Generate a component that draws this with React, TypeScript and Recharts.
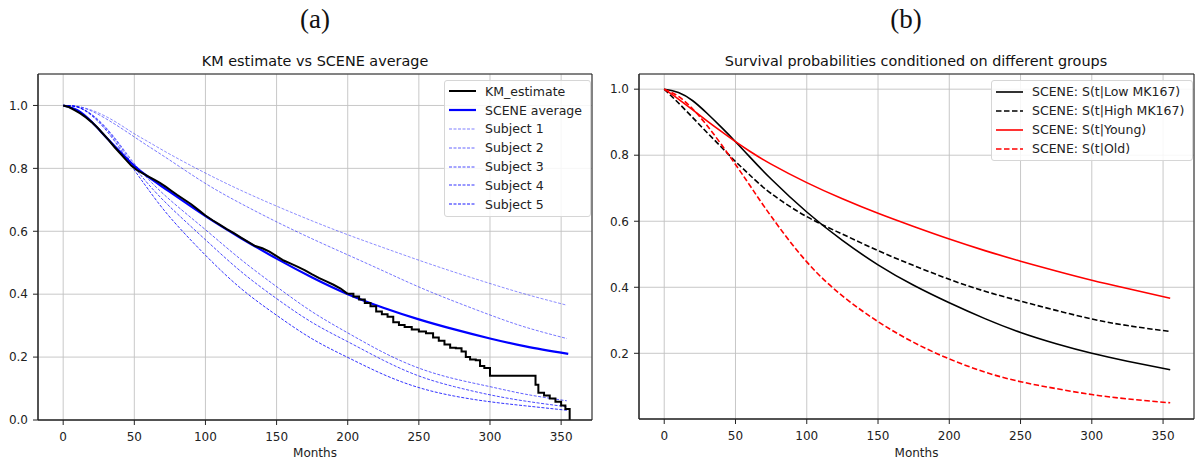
import React from "react";
import {
  LineChart,
  Line,
  XAxis,
  YAxis,
  CartesianGrid,
  ReferenceArea,
  Legend,
  Label,
} from "recharts";

const FONT = "'DejaVu Sans', Verdana, sans-serif";

// ---- shared axes ----
const X_DOMAIN = [-17.7, 371.7];
const X_TICKS = [0, 50, 100, 150, 200, 250, 300, 350];
const LEFT_Y_TICKS = [0, 0.2, 0.4, 0.6, 0.8, 1.0];
const RIGHT_Y_TICKS = [0.2, 0.4, 0.6, 0.8, 1.0];

// ---- (a) KM estimate: dense small steps early, visible steps late ----
const KM_EARLY_MONTHS = [
  0, 4, 8, 12, 16, 20, 24, 28, 32, 36, 40, 44, 48, 52, 56, 60, 64, 68, 72, 76,
  80, 85, 90, 95, 100, 105, 110, 115, 120, 125, 130, 135, 140, 145, 150, 155,
  160, 165, 170, 175, 180, 185, 190, 195, 200,
];
const KM_EARLY_VALUES = [
  1.0, 0.995, 0.985, 0.975, 0.962, 0.947, 0.93, 0.91, 0.89, 0.868, 0.848,
  0.828, 0.808, 0.794, 0.784, 0.774, 0.764, 0.754, 0.742, 0.729, 0.716, 0.701,
  0.686, 0.668, 0.65, 0.635, 0.621, 0.607, 0.594, 0.58, 0.566, 0.553, 0.546,
  0.535, 0.521, 0.507, 0.497, 0.487, 0.476, 0.463, 0.451, 0.441, 0.43, 0.418,
  0.401,
];
const KM_LATE_MONTHS = [
  200, 204, 208, 212, 216, 220, 224, 228, 232, 236, 240, 245, 250, 255, 260,
  264, 268, 272, 276, 280, 283, 286, 290, 293, 296, 300, 330, 332, 334, 338,
  342, 346, 350, 353, 356,
];
const KM_LATE_VALUES = [
  0.401, 0.393, 0.383, 0.372, 0.362, 0.345, 0.336, 0.328, 0.311, 0.302, 0.296,
  0.288, 0.281, 0.276, 0.262, 0.252, 0.24, 0.23, 0.228, 0.218, 0.2, 0.192,
  0.19, 0.172, 0.165, 0.141, 0.141, 0.112, 0.087, 0.078, 0.068, 0.058, 0.046,
  0.035, 0.0,
];

// ---- (a) SCENE average and subjects ----
const SCENE_MONTHS = [
  0, 10, 20, 30, 40, 50, 60, 75, 100, 125, 150, 175, 200, 225, 250, 275, 300,
  325, 355,
];
const SCENE_AVG = [
  1.0, 0.985, 0.948, 0.9, 0.853, 0.808, 0.772, 0.725, 0.648, 0.578, 0.513,
  0.453, 0.4, 0.357, 0.32, 0.288, 0.259, 0.234, 0.21,
];
const SUBJECT_MONTHS = [
  0, 10, 20, 30, 40, 50, 60, 75, 100, 125, 150, 175, 200, 225, 250, 275, 300,
  325, 354,
];
const SUBJECT_1 = [
  1.0, 0.997, 0.985, 0.965, 0.939, 0.91, 0.884, 0.845, 0.785, 0.73, 0.68,
  0.633, 0.589, 0.548, 0.508, 0.47, 0.434, 0.4, 0.365,
];
const SUBJECT_2 = [
  1.0, 0.997, 0.982, 0.958, 0.93, 0.9, 0.87, 0.826, 0.752, 0.688, 0.63, 0.576,
  0.525, 0.474, 0.423, 0.377, 0.334, 0.295, 0.259,
];
const SUBJECT_3 = [
  1.0, 0.995, 0.972, 0.93, 0.875, 0.815, 0.765, 0.7, 0.605, 0.51, 0.424, 0.344,
  0.277, 0.215, 0.165, 0.131, 0.106, 0.082, 0.061,
];
const SUBJECT_4 = [
  1.0, 0.995, 0.97, 0.927, 0.87, 0.805, 0.749, 0.678, 0.573, 0.472, 0.386,
  0.31, 0.249, 0.19, 0.14, 0.106, 0.08, 0.06, 0.042,
];
const SUBJECT_5 = [
  1.0, 0.995, 0.968, 0.922, 0.862, 0.795, 0.732, 0.645, 0.524, 0.418, 0.333,
  0.258, 0.199, 0.145, 0.103, 0.076, 0.058, 0.045, 0.031,
];

// ---- (b) group curves ----
const GROUP_MONTHS = [
  0, 10, 20, 30, 40, 50, 60, 75, 100, 125, 150, 175, 200, 225, 250, 275, 300,
  325, 355,
];
const LOW_MK167 = [
  1.0, 0.99, 0.965, 0.927, 0.885, 0.841, 0.795, 0.728, 0.628, 0.542, 0.468,
  0.406, 0.353, 0.305, 0.263, 0.229, 0.2, 0.176, 0.15,
];
const HIGH_MK167 = [
  1.0, 0.958, 0.914, 0.869, 0.825, 0.781, 0.74, 0.684, 0.614, 0.561, 0.511,
  0.466, 0.424, 0.388, 0.358, 0.33, 0.304, 0.284, 0.266,
];
const YOUNG = [
  1.0, 0.97, 0.937, 0.904, 0.872, 0.841, 0.812, 0.773, 0.717, 0.668, 0.624,
  0.584, 0.546, 0.511, 0.479, 0.449, 0.421, 0.396, 0.367,
];
const OLD = [
  1.0, 0.978, 0.94, 0.89, 0.833, 0.772, 0.709, 0.615, 0.477, 0.374, 0.296,
  0.233, 0.183, 0.143, 0.114, 0.093, 0.075, 0.062, 0.05,
];

const toPoints = (months: number[], values: number[]) =>
  months.map((m, i) => ({ m, v: values[i] }));

type LegendItem = {
  label: string;
  color: string;
  width: number;
  dash?: string;
  opacity?: number;
};

const LEFT_LEGEND: LegendItem[] = [
  { label: "KM_estimate", color: "#000000", width: 2 },
  { label: "SCENE average", color: "#0000ff", width: 2.2 },
  { label: "Subject 1", color: "#0000ff", width: 1, dash: "3 1.5", opacity: 0.5 },
  { label: "Subject 2", color: "#0000ff", width: 1, dash: "3 1.5", opacity: 0.6 },
  { label: "Subject 3", color: "#0000ff", width: 1, dash: "3 1.5", opacity: 0.7 },
  { label: "Subject 4", color: "#0000ff", width: 1, dash: "3 1.5", opacity: 0.8 },
  { label: "Subject 5", color: "#0000ff", width: 1, dash: "3 1.5", opacity: 0.9 },
];

const RIGHT_LEGEND: LegendItem[] = [
  { label: "SCENE: S(t|Low MK167)", color: "#000000", width: 1.6 },
  { label: "SCENE: S(t|High MK167)", color: "#000000", width: 1.6, dash: "5.5 2.5" },
  { label: "SCENE: S(t|Young)", color: "#ff0000", width: 1.6 },
  { label: "SCENE: S(t|Old)", color: "#ff0000", width: 1.6, dash: "5.5 2.5" },
];

function LegendBox({ items, rowHeight }: { items: LegendItem[]; rowHeight: number }) {
  return (
    <div
      style={{
        border: "1px solid #d6d6d6",
        borderRadius: 3,
        background: "rgba(255,255,255,0.85)",
        padding: "1px 8px 2px 4px",
        fontFamily: FONT,
        fontSize: 12.5,
        color: "#222",
      }}
    >
      {items.map((it) => (
        <div
          key={it.label}
          style={{ display: "flex", alignItems: "center", height: rowHeight, whiteSpace: "nowrap" }}
        >
          <svg width={27} height={8} style={{ flex: "none" }}>
            <line
              x1={0}
              y1={4}
              x2={27}
              y2={4}
              stroke={it.color}
              strokeWidth={it.width}
              strokeDasharray={it.dash}
              strokeOpacity={it.opacity ?? 1}
            />
          </svg>
          <span style={{ marginLeft: 9 }}>{it.label}</span>
        </div>
      ))}
    </div>
  );
}

const tickStyle = { fontSize: 12, fill: "#222", fontFamily: FONT };

function Caption({ text, x, y }: { text: string; x: number; y: number }) {
  return (
    <div
      style={{
        position: "absolute",
        left: x - 150,
        top: y,
        width: 300,
        textAlign: "center",
        fontFamily: "'Liberation Serif', 'DejaVu Serif', serif",
        fontSize: 27,
        lineHeight: 1,
        color: "#111",
      }}
    >
      {text}
    </div>
  );
}

function Title({ text, x, y }: { text: string; x: number; y: number }) {
  return (
    <div
      style={{
        position: "absolute",
        left: x - 300,
        top: y,
        width: 600,
        textAlign: "center",
        fontFamily: FONT,
        fontSize: 14.4,
        lineHeight: 1,
        color: "#111",
      }}
    >
      {text}
    </div>
  );
}

const curve = (key: string, pts: { m: number; v: number }[], style: Record<string, unknown>) => (
  <Line
    key={key}
    data={pts}
    dataKey="v"
    type="natural"
    dot={false}
    activeDot={false}
    isAnimationActive={false}
    {...style}
  />
);

export default function App() {
  const subjects = [SUBJECT_1, SUBJECT_2, SUBJECT_3, SUBJECT_4, SUBJECT_5].map((s) =>
    toPoints(SUBJECT_MONTHS, s)
  );

  return (
    <div
      style={{
        position: "absolute",
        left: 0,
        top: 0,
        width: 1196,
        height: 459,
        background: "#fff",
        fontFamily: FONT,
      }}
    >
      <Caption text="(a)" x={315} y={6} />
      <Caption text="(b)" x={906} y={6} />
      <Title text="KM estimate vs SCENE average" x={315} y={54} />
      <Title text="Survival probabilities conditioned on different groups" x={916} y={54} />

      {/* (a) */}
      <div style={{ position: "absolute", left: 0, top: 0 }}>
        <LineChart width={598} height={459} margin={{ top: 74, right: 6, bottom: 0, left: 0 }}>
          <CartesianGrid stroke="#c2c2c2" strokeWidth={0.9} />
          <XAxis
            type="number"
            dataKey="m"
            domain={X_DOMAIN}
            ticks={X_TICKS}
            allowDataOverflow
            height={39}
            tickSize={5}
            tickMargin={7}
            tick={tickStyle}
            stroke="#222"
          >
            <Label value="Months" position="insideBottom" offset={2} style={{ ...tickStyle }} />
          </XAxis>
          <YAxis
            type="number"
            dataKey="v"
            domain={[0, 1.1]}
            ticks={LEFT_Y_TICKS}
            allowDataOverflow
            width={38}
            tickSize={5}
            tickMargin={5}
            tick={tickStyle}
            stroke="#222"
            tickFormatter={(v: number) => v.toFixed(1)}
          />
          <ReferenceArea
            x1={X_DOMAIN[0]}
            x2={X_DOMAIN[1]}
            y1={0}
            y2={1.1}
            fill="none"
            fillOpacity={0}
            stroke="#222"
            strokeWidth={1}
          />
          {subjects.map((pts, i) =>
            curve(`s${i}`, pts, {
              stroke: "#0000ff",
              strokeOpacity: 0.5 + i * 0.1,
              strokeWidth: 0.9,
              strokeDasharray: "3 1.5",
            })
          )}
          {curve("avg", toPoints(SCENE_MONTHS, SCENE_AVG), {
            stroke: "#0000ff",
            strokeWidth: 2.2,
          })}
          <Line
            data={toPoints(KM_EARLY_MONTHS, KM_EARLY_VALUES)}
            dataKey="v"
            type="linear"
            stroke="#000"
            strokeWidth={2}
            dot={false}
            activeDot={false}
            isAnimationActive={false}
          />
          <Line
            data={toPoints(KM_LATE_MONTHS, KM_LATE_VALUES)}
            dataKey="v"
            type="stepAfter"
            stroke="#000"
            strokeWidth={2}
            dot={false}
            activeDot={false}
            isAnimationActive={false}
          />
          <Legend
            layout="vertical"
            align="center"
            verticalAlign="middle"
            wrapperStyle={{ left: 444, top: 80, width: "auto" }}
            content={() => <LegendBox items={LEFT_LEGEND} rowHeight={18.8} />}
          />
        </LineChart>
      </div>

      {/* (b) */}
      <div style={{ position: "absolute", left: 598, top: 0 }}>
        <LineChart width={598} height={459} margin={{ top: 74, right: 2, bottom: 0, left: 0 }}>
          <CartesianGrid stroke="#c2c2c2" strokeWidth={0.9} />
          <XAxis
            type="number"
            dataKey="m"
            domain={X_DOMAIN}
            ticks={X_TICKS}
            allowDataOverflow
            height={40}
            tickSize={5}
            tickMargin={7}
            tick={tickStyle}
            stroke="#222"
          >
            <Label value="Months" position="insideBottom" offset={2} style={{ ...tickStyle }} />
          </XAxis>
          <YAxis
            type="number"
            dataKey="v"
            domain={[0.001, 1.046]}
            ticks={RIGHT_Y_TICKS}
            allowDataOverflow
            width={41}
            tickSize={5}
            tickMargin={5}
            tick={tickStyle}
            stroke="#222"
            tickFormatter={(v: number) => v.toFixed(1)}
          />
          <ReferenceArea
            x1={X_DOMAIN[0]}
            x2={X_DOMAIN[1]}
            y1={0.001}
            y2={1.046}
            fill="none"
            fillOpacity={0}
            stroke="#222"
            strokeWidth={1}
          />
          {curve("low", toPoints(GROUP_MONTHS, LOW_MK167), { stroke: "#000", strokeWidth: 1.6 })}
          {curve("high", toPoints(GROUP_MONTHS, HIGH_MK167), {
            stroke: "#000",
            strokeWidth: 1.6,
            strokeDasharray: "5.5 2.5",
          })}
          {curve("young", toPoints(GROUP_MONTHS, YOUNG), { stroke: "#ff0000", strokeWidth: 1.6 })}
          {curve("old", toPoints(GROUP_MONTHS, OLD), {
            stroke: "#ff0000",
            strokeWidth: 1.6,
            strokeDasharray: "5.5 2.5",
          })}
          <Legend
            layout="vertical"
            align="center"
            verticalAlign="middle"
            wrapperStyle={{ left: 393, top: 80, width: "auto" }}
            content={() => <LegendBox items={RIGHT_LEGEND} rowHeight={19} />}
          />
        </LineChart>
      </div>
    </div>
  );
}
